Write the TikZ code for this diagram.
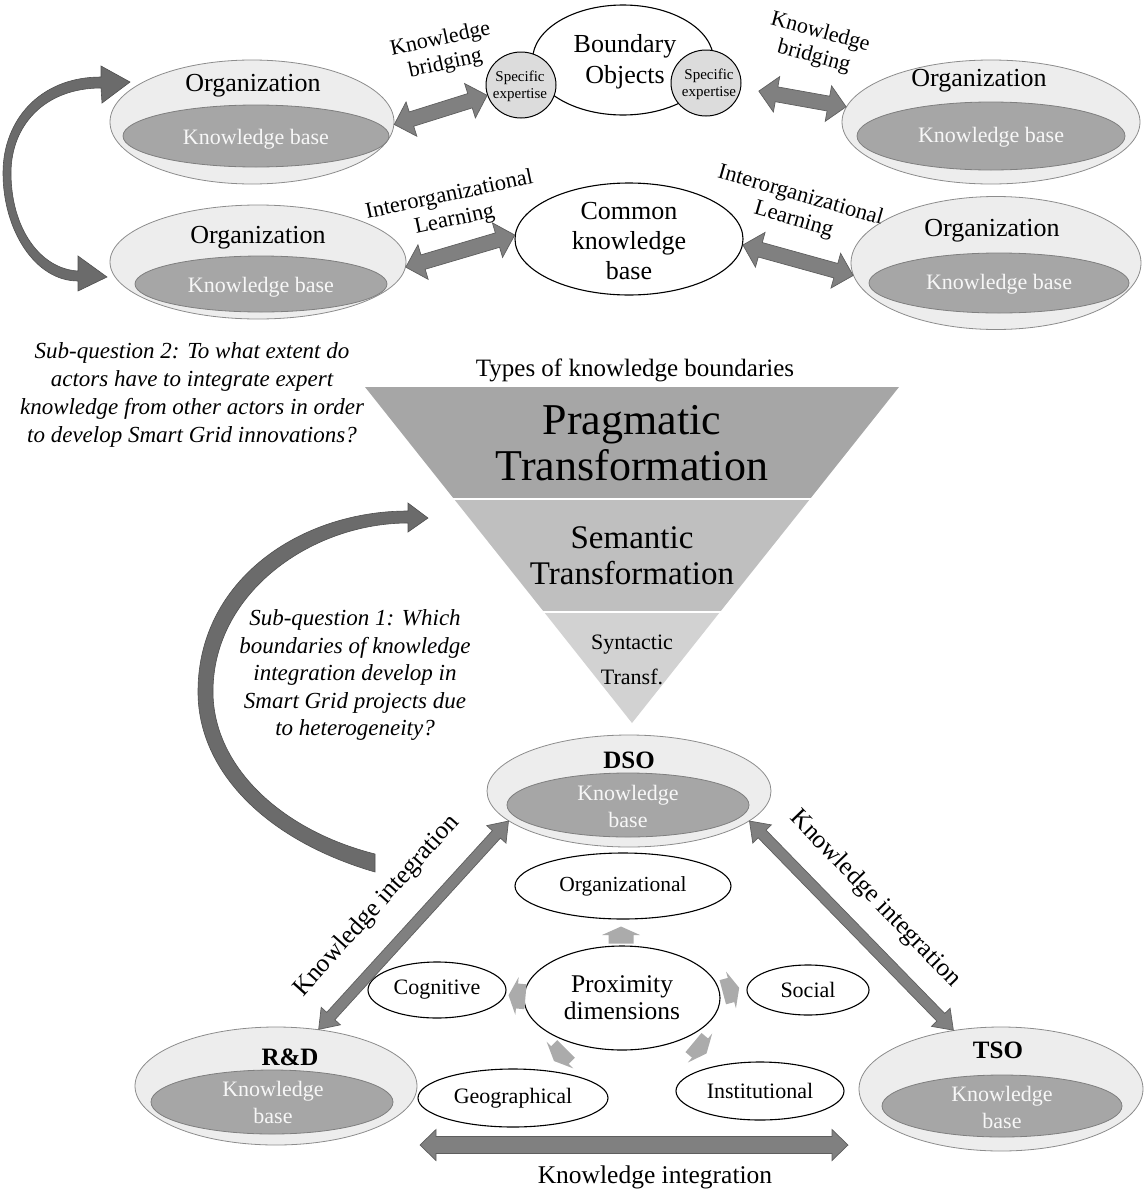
\documentclass[tikz,border=0pt]{standalone}
\usepackage{fontspec}
\setmainfont{Liberation Serif}
\usetikzlibrary{shapes.geometric,calc}

\definecolor{outerfill}{HTML}{EDEDED}
\definecolor{outerline}{HTML}{8C8C8C}
\definecolor{innerfill}{HTML}{A6A6A6}
\definecolor{innerline}{HTML}{7F7F7F}
\definecolor{kbtext}{HTML}{F7F7F7}
\definecolor{arrowfill}{HTML}{808080}
\definecolor{arrowline}{HTML}{5E5E5E}
\definecolor{arcfill}{HTML}{6B6B6B}
\definecolor{arcline}{HTML}{4F4F4F}
\definecolor{proxfill}{HTML}{ABABAB}
\definecolor{bandA}{HTML}{A6A6A6}
\definecolor{bandB}{HTML}{BFBFBF}
\definecolor{bandC}{HTML}{D2D2D2}
\definecolor{specfill}{HTML}{DCDCDC}

\newcommand\fsz[2]{\fontsize{#1}{#2}\selectfont}

% double-headed block arrow between two points:
% #1 from, #2 to, #3 half shaft width, #4 half head width, #5 head length
\newcommand\twoheadblock[5]{%
  \filldraw[blockarr] let \p1=(#1), \p2=(#2),
      \n1={atan2(\y2-\y1,\x2-\x1)}, \n2={veclen(\x2-\x1,\y2-\y1)} in
    {[shift={(\p1)}, rotate=\n1]
     (0,0) -- (#5,#4) -- (#5,#3) -- (\n2-#5,#3) -- (\n2-#5,#4) -- (\n2,0)
     -- (\n2-#5,-#4) -- (\n2-#5,-#3) -- (#5,-#3) -- (#5,-#4) -- cycle};}

% short radial arrow around the proximity ellipse: #1,#2 centre, #3 direction
\newcommand\proxarrow[3]{%
  \fill[proxfill, shift={(#1,#2)}, rotate=#3]
    (-8.5,-12.5) -- (0,-12.5) -- (0,-19) -- (8.5,0) -- (0,19) -- (0,12.5) -- (-8.5,12.5) -- cycle;}

\begin{document}
\begin{tikzpicture}[x=1pt, y=-1pt,
  outerell/.style={ellipse, draw=outerline, fill=outerfill, line width=0.8pt, inner sep=0pt},
  innerell/.style={ellipse, draw=innerline, fill=innerfill, line width=0.8pt, inner sep=0pt},
  whiteell/.style={ellipse, draw=black, fill=white, line width=1.1pt, inner sep=0pt},
  specell/.style={ellipse, draw=black, fill=specfill, line width=1pt, inner sep=0pt},
  txt/.style={inner sep=0pt, align=center, text=black},
  kbtxt/.style={inner sep=0pt, align=center, text=kbtext},
  blockarr/.style={fill=arrowfill, draw=arrowline, line width=0.7pt, line join=miter},
  arcarr/.style={fill=arcfill, draw=arcline, line width=0.6pt}
]
\useasboundingbox (0,0) rectangle (1144,1202);

% ---------- knowledge boundary funnel ----------
\fill[bandA] (365,387) -- (899,387) -- (810,499) -- (454,499) -- cycle;
\fill[bandB] (454,499) -- (810,499) -- (720,612) -- (544,612) -- cycle;
\fill[bandC] (544,612) -- (720,612) -- (632,723) -- cycle;
\draw[white, line width=1.5pt] (452,499) -- (812,499);
\draw[white, line width=1.5pt] (542,612) -- (722,612);

\node[txt, font=\fsz{25}{30}] (types) at (635,370) {Types of knowledge boundaries};
\node[txt, font=\fsz{44}{46}] (prag) at (632,443) {Pragmatic\\Transformation};
\node[txt, font=\fsz{33}{36}] (sem) at (632,556) {Semantic\\Transformation};
\node[txt, font=\fsz{22}{35}] (syn) at (632,660) {Syntactic\\Transf.};

% ---------- research questions ----------
\node[txt, font=\itshape\fsz{23}{28}] (sq2) at (192,395)
  {Sub-question 2: To what extent do\\actors have to integrate expert\\knowledge from other actors in order\\to develop Smart Grid innovations?};
\node[txt, font=\itshape\fsz{23}{27.5}] (sq1) at (355,675)
  {Sub-question 1: Which\\boundaries of knowledge\\integration develop in\\Smart Grid projects due\\to heterogeneity?};

% ---------- upper organisations ----------
\node[outerell, minimum width=284pt, minimum height=124pt] (orgA) at (252,122) {};
\node[innerell, minimum width=266pt, minimum height=62pt] (kbA) at (256,136) {};
\node[txt, font=\fsz{26}{30}] (orgAt) at (253,86) {Organization};
\node[kbtxt, font=\fsz{22}{26}] (kbAt) at (256,139) {Knowledge base};

\node[outerell, minimum width=296pt, minimum height=114pt] (orgB) at (258,262) {};
\node[innerell, minimum width=252pt, minimum height=56pt] (kbB) at (261,284) {};
\node[txt, font=\fsz{26}{30}] (orgBt) at (258,238) {Organization};
\node[kbtxt, font=\fsz{22}{26}] (kbBt) at (261,287) {Knowledge base};

\node[outerell, minimum width=298pt, minimum height=124pt] (orgC) at (991,122) {};
\node[innerell, minimum width=268pt, minimum height=68pt] (kbC) at (991,136) {};
\node[txt, font=\fsz{26}{30}] (orgCt) at (979,81) {Organization};
\node[kbtxt, font=\fsz{22}{26}] (kbCt) at (991,137) {Knowledge base};

\node[outerell, minimum width=290pt, minimum height=133pt] (orgD) at (996,263) {};
\node[innerell, minimum width=260pt, minimum height=60pt] (kbD) at (999,283) {};
\node[txt, font=\fsz{26}{30}] (orgDt) at (992,231) {Organization};
\node[kbtxt, font=\fsz{22}{26}] (kbDt) at (999,284) {Knowledge base};

% boundary objects and common knowledge base
\node[whiteell, minimum width=181pt, minimum height=110pt] (bound) at (623,60) {};
\node[txt, font=\fsz{26}{31}] (boundt) at (625,62) {Boundary\\Objects};
\node[specell, minimum width=70pt, minimum height=66pt] (spec1) at (521,85) {};
\node[txt, font=\fsz{15}{17}] (spec1t) at (520,86) {Specific\\expertise};
\node[specell, minimum width=70pt, minimum height=66pt] (spec2) at (706,83) {};
\node[txt, font=\fsz{15}{17}] (spec2t) at (709,84) {Specific\\expertise};

\node[whiteell, minimum width=228pt, minimum height=112pt] (common) at (629,239) {};
\node[txt, font=\fsz{26}{30}] (commont) at (629,241) {Common\\knowledge\\base};

% connector labels
\node[txt, font=\fsz{22}{25}, rotate=12] (kbLa) at (443,52) {Knowledge\\bridging};
\node[txt, font=\fsz{22}{25}, rotate=-15] (kbRa) at (817,45) {Knowledge\\bridging};
\node[txt, font=\fsz{22.5}{25}, rotate=12] (ilLa) at (452,208) {Interorganizational\\Learning};
\node[txt, font=\fsz{22.5}{25}, rotate=-16] (ilRa) at (797,208) {Interorganizational\\Learning};

% connectors between organisations
\twoheadblock{orgA.-1}{spec1.197}{7.5}{18}{18}
\twoheadblock{$(spec2.-8)!18pt!(orgC.174)$}{orgC.174}{7.5}{18}{18}
\twoheadblock{orgB.-2}{common.178}{7.5}{18}{18}
\twoheadblock{common.-3}{orgD.185}{7.5}{18}{18}

% curved arrow linking the two upper organisations
\filldraw[arcarr] (101,66) -- (130,82) -- (102,103) -- (101,88)
  .. controls (45,88) and (11,125) .. (11,173)
  .. controls (11,228) and (40,269) .. (78,271)
  -- (78,256) -- (107,277) -- (78,291) -- (78,281)
  .. controls (35,281) and (3,230) .. (3,173)
  .. controls (3,120) and (40,77) .. (101,77) -- cycle;

% large curved arrow towards the funnel
\filldraw[arcarr] (408,503) -- (428,518) -- (408,532) -- (408,523)
  .. controls (312,523) and (214,592) .. (213,690)
  .. controls (212,765) and (280,830) .. (375,854)
  -- (375,872)
  .. controls (265,840) and (197,770) .. (198,690)
  .. controls (199,580) and (300,511) .. (408,511) -- cycle;

% ---------- lower triangle of actors ----------
\node[outerell, minimum width=284pt, minimum height=112pt] (dso) at (629,791) {};
\node[innerell, minimum width=242pt, minimum height=64pt] (kbdso) at (628,805) {};
\node[txt, font=\bfseries\fsz{25}{28}] (dsot) at (629,760) {DSO};
\node[kbtxt, font=\fsz{22}{27}] (kbdsot) at (628,806) {Knowledge\\base};

\node[outerell, minimum width=282pt, minimum height=118pt] (rd) at (276,1086) {};
\node[innerell, minimum width=242pt, minimum height=64pt] (kbrd) at (272,1102) {};
\node[txt, font=\bfseries\fsz{25}{28}] (rdt) at (290,1057) {R\&D};
\node[kbtxt, font=\fsz{22}{27}] (kbrdt) at (273,1102) {Knowledge\\base};

\node[outerell, minimum width=284pt, minimum height=124pt] (tso) at (1001,1089) {};
\node[innerell, minimum width=240pt, minimum height=62pt] (kbtso) at (1002,1106) {};
\node[txt, font=\bfseries\fsz{25}{28}] (tsot) at (998,1050) {TSO};
\node[kbtxt, font=\fsz{22}{27}] (kbtsot) at (1002,1107) {Knowledge\\base};

% proximity dimensions
\node[whiteell, minimum width=216pt, minimum height=66pt] (orgz) at (623,886) {};
\node[txt, font=\fsz{21.5}{25}] (orgzt) at (623,886) {Organizational};
\node[whiteell, minimum width=196pt, minimum height=104pt] (prox) at (622,998) {};
\node[txt, font=\fsz{25.5}{27}] (proxt) at (622,998) {Proximity\\dimensions};
\node[whiteell, minimum width=138pt, minimum height=56pt] (cog) at (437,990) {};
\node[txt, font=\fsz{22}{25}] (cogt) at (437,990) {Cognitive};
\node[whiteell, minimum width=122pt, minimum height=50pt] (soc) at (808,990) {};
\node[txt, font=\fsz{22}{25}] (soct) at (808,990) {Social};
\node[whiteell, minimum width=190pt, minimum height=58pt] (geo) at (513,1098) {};
\node[txt, font=\fsz{22}{25}] (geot) at (513,1098) {Geographical};
\node[whiteell, minimum width=168pt, minimum height=58pt] (inst) at (760,1091) {};
\node[txt, font=\fsz{22}{25}] (instt) at (760,1091) {Institutional};

\proxarrow{621}{935}{90}
\proxarrow{517}{996}{175}
\proxarrow{731}{990}{15}
\proxarrow{560}{1055}{-135}
\proxarrow{700}{1048}{-40}

% knowledge integration connectors
\coordinate (kiL) at (420,1145);
\coordinate (kiR) at (848,1145);
\twoheadblock{dso.194}{rd.53}{5.5}{13}{18}
\twoheadblock{dso.-14}{tso.129}{5.5}{13}{18}
\twoheadblock{kiL}{kiR}{8.5}{15.5}{16}

\node[txt, font=\fsz{25.5}{28}, rotate=48] (kiLa) at (377,906) {Knowledge integration};
\node[txt, font=\fsz{25.5}{28}, rotate=-46] (kiRa) at (875,899) {Knowledge integration};
\node[txt, font=\fsz{25.5}{28}] (kiBa) at (655,1177) {Knowledge integration};
\end{tikzpicture}
\end{document}
